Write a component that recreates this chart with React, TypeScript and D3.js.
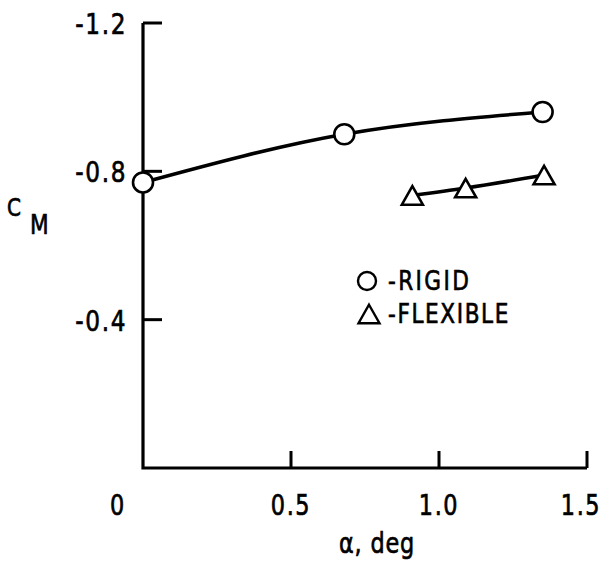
import React from "react";
import { scaleLinear, line, curveMonotoneX } from "d3";

// alpha, deg
const rigidAlpha = [0.0, 0.68, 1.35];
const rigidCm = [-0.77, -0.9, -0.96];
const flexAlpha = [0.91, 1.09, 1.355];
const flexCm = [-0.735, -0.755, -0.79];

const xTicks = [0, 0.5, 1.0, 1.5];
const xTickLabels = ["0", "0.5", "1.0", "1.5"];
const yTicks = [-1.2, -0.8, -0.4];
const yTickLabels = ["-1.2", "-0.8", "-0.4"];

const legendLabels = ["-RIGID", "-FLEXIBLE"];

const W = 607;
const H = 567;

// condensed typewriter-ish lettering: DejaVu squeezed horizontally
const T = ({
  x,
  y,
  size,
  anchor = "start",
  spacing = 0,
  children,
}: {
  x: number;
  y: number;
  size: number;
  anchor?: string;
  spacing?: number;
  children: React.ReactNode;
}) => (
  <text
    transform={`translate(${x},${y}) scale(0.8,1)`}
    textAnchor={anchor}
    fontSize={size}
    letterSpacing={spacing}
    fontFamily="'DejaVu Sans', sans-serif"
    fill="#000"
    stroke="#000"
    strokeWidth={0.7}
  >
    {children}
  </text>
);

const App = () => {
  const x = scaleLinear().domain([0, 1.5]).range([143, 587]);
  const y = scaleLinear().domain([0, -1.2]).range([468, 23]);

  const path = line<[number, number]>()
    .x((d) => x(d[0]))
    .y((d) => y(d[1]))
    .curve(curveMonotoneX);

  const rigid = rigidAlpha.map((a, i) => [a, rigidCm[i]] as [number, number]);
  const flex = flexAlpha.map((a, i) => [a, flexCm[i]] as [number, number]);

  const tri = (cx: number, cy: number, s: number) => {
    const h = s * 0.88;
    return `M${cx},${cy - h / 2} L${cx + s / 2},${cy + h / 2} L${cx - s / 2},${cy + h / 2} Z`;
  };

  return (
    <svg width={W} height={H} style={{ position: "absolute", left: 0, top: 0, background: "#fff" }}>
      {/* axes */}
      <path
        d={`M${x(0)},${y(-1.2)} V${y(0)} H${x(1.5)}`}
        fill="none"
        stroke="#000"
        strokeWidth={3.2}
      />
      {yTicks.map((t, i) => (
        <g key={t}>
          <line x1={x(0)} x2={x(0) + 19} y1={y(t)} y2={y(t)} stroke="#000" strokeWidth={3} />
          <T x={127} y={y(t) + 11} size={29} anchor="end" spacing={2}>
            {yTickLabels[i]}
          </T>
        </g>
      ))}
      {xTicks.map((t, i) => (
        <g key={t}>
          {t > 0 && (
            <line x1={x(t)} x2={x(t)} y1={y(0)} y2={y(0) - 17} stroke="#000" strokeWidth={3} />
          )}
          <T
            x={t === 0 ? x(t) - 25 : x(t) - (t === 1.5 ? 6 : 0)}
            y={515}
            size={28}
            anchor="middle"
            spacing={2}
          >
            {xTickLabels[i]}
          </T>
        </g>
      ))}

      {/* axis titles */}
      <T x={377} y={553} size={28} anchor="middle" spacing={1}>
        α, deg
      </T>
      <T x={7} y={216} size={25}>C</T>
      <T x={30} y={234} size={27}>M</T>

      {/* series */}
      <path d={path(rigid) || ""} fill="none" stroke="#000" strokeWidth={3.5} />
      <path d={path(flex) || ""} fill="none" stroke="#000" strokeWidth={3.5} />
      {rigid.map((d, i) => (
        <circle key={i} cx={x(d[0])} cy={y(d[1])} r={10} fill="#fff" stroke="#000" strokeWidth={2.6} />
      ))}
      {flex.map((d, i) => (
        <path key={i} d={tri(x(d[0]), y(d[1]), 21)} fill="#fff" stroke="#000" strokeWidth={2.6} />
      ))}

      {/* legend */}
      <circle cx={367} cy={281} r={9} fill="none" stroke="#000" strokeWidth={2.4} />
      <path d={tri(369, 314, 21)} fill="none" stroke="#000" strokeWidth={2.4} />
      <T x={388} y={290} size={27} spacing={3}>
        {legendLabels[0]}
      </T>
      <T x={388} y={323} size={27} spacing={2}>
        {legendLabels[1]}
      </T>
    </svg>
  );
};

export default App;
